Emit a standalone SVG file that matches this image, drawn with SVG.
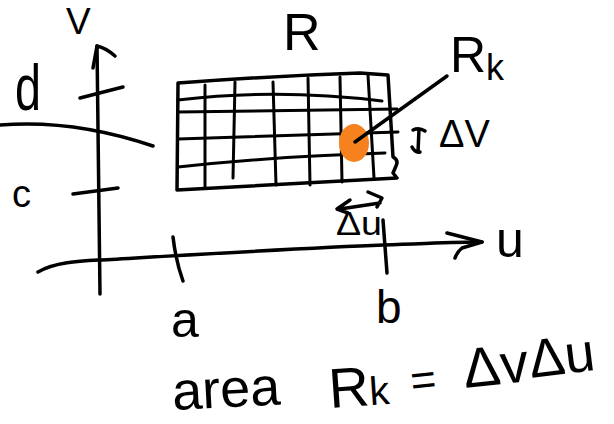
<svg xmlns="http://www.w3.org/2000/svg" width="614" height="424" viewBox="0 0 614 424">
<style>
.s{fill:none;stroke:#000;stroke-width:3.5;stroke-linecap:round;stroke-linejoin:round}
.g{fill:none;stroke:#000;stroke-width:3;stroke-linecap:round;stroke-linejoin:round}
.t{font-family:"Liberation Sans",Arial,sans-serif;fill:#000}
</style>
<rect width="614" height="424" fill="#fff"/>
<g id="axes">
<path class="s" d="M100,294 C99,220 98,120 97,46"/>
<path class="s" d="M93,68 L97,46 Q106,48 115,56"/>
<path class="s" d="M38,272 C55,262 80,261 100,260 S300,248 383,245 S460,242 482,242"/>
<path class="s" d="M447,233 L482,242 L462,248 Q457,252 455,258"/>
<path class="s" d="M80,98 L123,87"/>
<path class="s" d="M73,194 L118,188"/>
<path class="s" d="M173,237 Q176,262 183,281"/>
<path class="s" d="M383,220 L387,273"/>
</g>
<g id="curve">
<path class="s" d="M0,125 C50,121 100,128 153,146"/>
</g>
<g id="region-R">
<path class="s" d="M178,85 L178,83 Q270,76 360,73 L388,75 L393,157 Q399,160 396,166 L393,173 L397,178 L177,190 L178,85"/>
<path class="g" d="M178,100 Q277,88 382,101"/>
<path class="g" d="M178,112 L397,109"/>
<path class="g" d="M178,139 L398,132"/>
<path class="g" d="M178,167 Q280,156 385,153"/>
<path class="g" d="M205,85 L205,187"/>
<path class="g" d="M235,82 L233,178"/>
<path class="g" d="M273,82 L276,185"/>
<path class="g" d="M308,78 L310,185"/>
<path class="g" d="M340,77 L342,182"/>
<path class="g" d="M368,75 L374,178"/>
</g>
<g id="cell-Rk">
<ellipse cx="354" cy="143" rx="15" ry="19" fill="#F5821F"/>
</g>
<g id="connectors">
<path class="s" d="M355,142 L447,76"/>
<path class="s" d="M413,130 Q419,127 425,131 M419,129 L418,152 M412,147 Q415,153 420,152"/>
<path class="s" d="M350,200 L337,209 L348,213 M340,209 L380,203 M368,192 L382,198 L377,207"/>
</g>
<g id="labels">
<text class="t" x="66" y="34" font-size="37">V</text>
<text class="t" x="15" y="110" font-size="64" textLength="26" lengthAdjust="spacingAndGlyphs">d</text>
<text class="t" x="12" y="207" font-size="38">c</text>
<text class="t" x="283" y="50" font-size="52">R</text>
<text class="t" x="450" y="72" font-size="50">R<tspan font-size="36" dy="8">k</tspan></text>
<text class="t" x="439" y="147" font-size="38">ΔV</text>
<text class="t" x="336" y="235" font-size="33" textLength="46" lengthAdjust="spacingAndGlyphs">Δu</text>
<text class="t" x="496" y="257" font-size="50">u</text>
<text class="t" x="171" y="337" font-size="50">a</text>
<text class="t" x="376" y="323" font-size="46">b</text>
</g>
<g id="formula">
<text class="t" x="173" y="410" font-size="54" transform="rotate(-3 173 410)">area</text>
<text class="t" x="330" y="408" font-size="56" transform="rotate(-4 330 408)">R<tspan font-size="40">k</tspan></text>
<text class="t" x="412" y="396" font-size="44" transform="rotate(-6 412 396)">=</text>
<text class="t" x="465" y="388" font-size="56" transform="rotate(-6 465 388)">Δv</text>
<text class="t" x="531" y="378" font-size="54" transform="rotate(-7 531 378)">Δu</text>
</g>
</svg>
